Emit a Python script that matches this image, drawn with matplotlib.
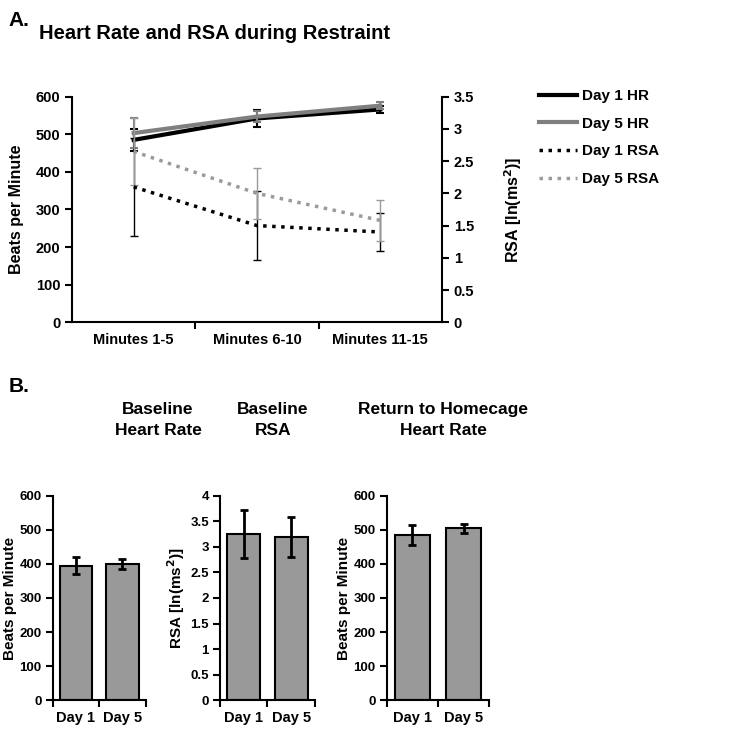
import numpy as np
import matplotlib.pyplot as plt
from matplotlib.lines import Line2D

plt.rcParams['font.family'] = ['Liberation Sans', 'DejaVu Sans']
plt.rcParams['font.weight'] = 'bold'
plt.rcParams['axes.labelweight'] = 'bold'

# panel A data
periods = ['Minutes 1-5', 'Minutes 6-10', 'Minutes 11-15']
hr_day1 = [485, 542, 566]
hr_day1_err = [30, 22, 10]
hr_day5 = [503, 547, 576]
hr_day5_err = [40, 15, 10]
rsa_day1 = [2.10, 1.50, 1.40]
rsa_day1_err = [0.76, 0.53, 0.29]
rsa_day5 = [2.65, 2.00, 1.58]
rsa_day5_err = [0.52, 0.40, 0.32]

# panel B data
days = ['Day 1', 'Day 5']
base_hr = [395, 399]
base_hr_err = [25, 15]
base_rsa = [3.25, 3.20]
base_rsa_err = [0.46, 0.39]
home_hr = [484, 504]
home_hr_err = [30, 14]

TICK = 10.5
LAB = 11.5

fig = plt.figure(figsize=(7.5, 7.4), dpi=100)

dot = (0, (1, 1.6))

# ---- A ----
ax = fig.add_axes([0.096, 0.5645, 0.4933, 0.3049])
x = np.arange(len(periods))
ax.errorbar(x, hr_day1, yerr=hr_day1_err, color='black', lw=3, capsize=3,
            elinewidth=1.5, capthick=1.5, zorder=4)
ax.errorbar(x, hr_day5, yerr=hr_day5_err, color='#7f7f7f', lw=3, capsize=3,
            elinewidth=1.5, capthick=1.5, zorder=5)
ax.set_ylim(0, 600)
ax.set_yticks(range(0, 601, 100))
ax.set_xlim(-0.5, 2.5)
ax.set_xticks(x)
ax.set_xticklabels(periods)
ax.set_xticks([0.5, 1.5], minor=True)
ax.tick_params(axis='x', which='major', length=0, labelsize=TICK, pad=8)
ax.tick_params(axis='x', which='minor', length=5, width=1.5, direction='out')
ax.tick_params(axis='y', labelsize=TICK, width=1.5, length=5)
ax.set_ylabel('Beats per Minute', fontsize=LAB, labelpad=8)
for s in ['left', 'bottom']:
    ax.spines[s].set_linewidth(1.5)
ax.spines['top'].set_visible(False)
ax.spines['right'].set_visible(False)

ax2 = ax.twinx()
ax2.errorbar(x, rsa_day1, yerr=rsa_day1_err, color='black', lw=2.5, ls=dot,
             capsize=3, elinewidth=1, capthick=1, zorder=3)
ax2.errorbar(x, rsa_day5, yerr=rsa_day5_err, color='#9a9a9a', lw=2.5, ls=dot,
             capsize=3, elinewidth=1, capthick=1, zorder=3)
ax2.set_ylim(0, 3.5)
ax2.set_yticks(np.arange(0, 3.51, 0.5))
ax2.set_yticklabels(['0', '0.5', '1', '1.5', '2', '2.5', '3', '3.5'])
ax2.tick_params(axis='y', labelsize=TICK, width=1.5, length=5)
ax2.set_ylabel('RSA [ln(ms$^{\\mathbf{2}}$)]', fontsize=LAB, labelpad=20)
ax2.spines['right'].set_linewidth(1.5)
ax2.spines['top'].set_visible(False)
ax2.spines['left'].set_visible(False)
ax2.spines['bottom'].set_visible(False)

handles = [Line2D([], [], color='black', lw=3),
           Line2D([], [], color='#7f7f7f', lw=3),
           Line2D([], [], color='black', lw=2.5, ls=dot),
           Line2D([], [], color='#9a9a9a', lw=2.5, ls=dot)]
fig.legend(handles, ['Day 1 HR', 'Day 5 HR', 'Day 1 RSA', 'Day 5 RSA'],
           loc='upper left', bbox_to_anchor=(0.71, 0.888), frameon=False,
           fontsize=11, handlelength=2.5, handletextpad=0.35, labelspacing=0.9,
           borderaxespad=0)

fig.text(0.011, 0.972, 'A.', fontsize=15, fontweight='bold', va='center')
fig.text(0.052, 0.955, 'Heart Rate and RSA during Restraint', fontsize=14.5,
         fontweight='bold', va='center')
fig.text(0.011, 0.478, 'B.', fontsize=15, fontweight='bold', va='center')


# ---- B ----
def bar_panel(rect, vals, errs, ymax, step, title, title_x, ylabel,
              ticklabels=None):
    a = fig.add_axes(rect)
    xb = np.arange(len(days))
    a.bar(xb, vals, width=0.69, color='#999999', edgecolor='black', lw=1.5)
    a.errorbar(xb, vals, yerr=errs, fmt='none', ecolor='black', elinewidth=2,
               capsize=3, capthick=2)
    a.set_xlim(-0.5, 1.5)
    a.set_ylim(0, ymax)
    ticks = np.arange(0, ymax + step / 2, step)
    a.set_yticks(ticks)
    if ticklabels is not None:
        a.set_yticklabels(ticklabels)
    a.set_xticks(xb)
    a.set_xticklabels(days)
    a.set_xticks([-0.5, 0.5, 1.5], minor=True)
    a.tick_params(axis='x', which='major', length=0, labelsize=10.5, pad=8)
    a.tick_params(axis='x', which='minor', length=5, width=1.5)
    a.tick_params(axis='y', labelsize=9.5, width=1.5, length=5, pad=3)
    a.set_ylabel(ylabel, fontsize=11, labelpad=2)
    a.spines['top'].set_visible(False)
    a.spines['right'].set_visible(False)
    a.spines['left'].set_linewidth(1.5)
    a.spines['bottom'].set_linewidth(1.5)
    fig.text(title_x / 750, 1 - 420 / 740, title, fontsize=12.5,
             fontweight='bold', ha='center', va='center', linespacing=1.5)
    return a


bar_panel([0.0703, 0.0536, 0.124, 0.2766], base_hr, base_hr_err, 600, 100,
          'Baseline\nHeart Rate', 158, 'Beats per Minute')
bar_panel([0.2933, 0.0536, 0.1267, 0.2766], base_rsa, base_rsa_err, 4, 0.5,
          'Baseline\nRSA', 273, 'RSA [ln(ms$^{\\mathbf{2}}$)]',
          ['0', '0.5', '1', '1.5', '2', '2.5', '3', '3.5', '4'])
bar_panel([0.5156, 0.0536, 0.1368, 0.2766], home_hr, home_hr_err, 600, 100,
          'Return to Homecage\nHeart Rate', 443, 'Beats per Minute')

fig.savefig('out.png', dpi=100)
